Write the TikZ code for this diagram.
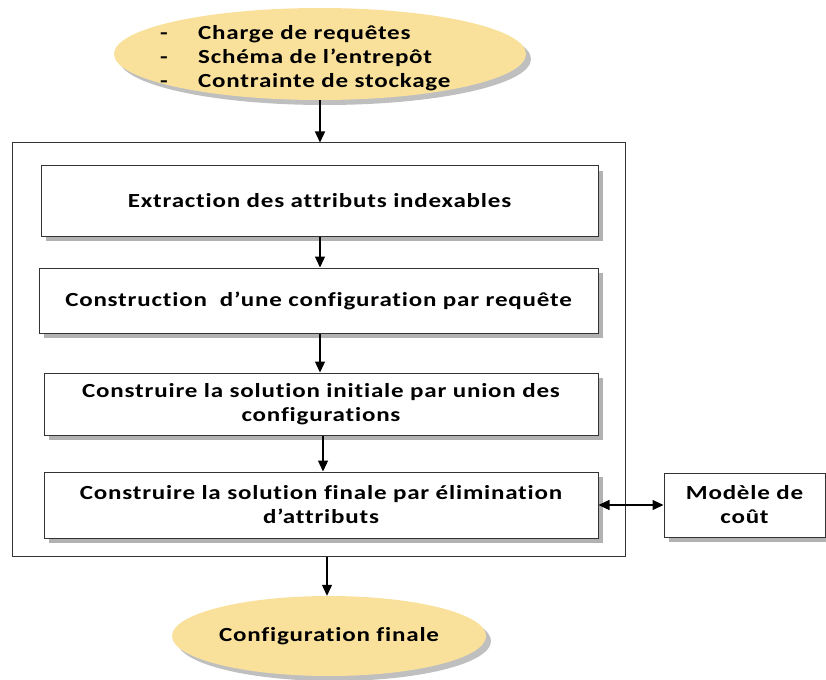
\documentclass[tikz,border=0pt]{standalone}
\usepackage{fontspec}
\setmainfont{Carlito}[LetterSpace=4, FakeStretch=1.25, Ligatures=NoCommon]
\usetikzlibrary{shadows,arrows.meta,shapes.geometric}
\definecolor{ovalfill}{RGB}{250,225,155}
\tikzset{
  stepbox/.style={draw=black!80, line width=1pt, fill=white, drop shadow={shadow xshift=5pt, shadow yshift=-5pt, fill=black!30, opacity=1}, font=\fontsize{20}{24}\selectfont\bfseries, align=center, inner sep=0pt},
  oval/.style={ellipse, fill=ovalfill, inner sep=0pt, drop shadow={shadow xshift=5pt, shadow yshift=-5pt, fill=black!25, opacity=1}},
  txt/.style={font=\fontsize{20}{24}\selectfont\bfseries, inner sep=0pt},
  tip/.tip={Triangle[length=11pt,width=10pt]},
  arr/.style={-tip, line width=1.2pt},
}
\begin{document}
\begin{tikzpicture}[x=1pt,y=-1pt]
\useasboundingbox (0,0) rectangle (826,679);
% top ellipse
\node[oval, minimum width=412pt, minimum height=92pt] (topE) at (320,54) {};
\node[txt, anchor=base west] (d1) at (160,40) {-};
\node[txt, anchor=base west] (d2) at (160,64) {-};
\node[txt, anchor=base west] (d3) at (160,88) {-};
\node[txt, anchor=base west] (t1) at (198,40) {Charge de requêtes};
\node[txt, anchor=base west] (t2) at (198,64) {Schéma de l’entrepôt};
\node[txt, anchor=base west] (t3) at (198,88) {Contrainte de stockage};
% outer box
\node[draw=black!80, line width=1pt, minimum width=613pt, minimum height=413pt, inner sep=0pt] (outer) at (318.5,349.5) {};
% boxes
\node[stepbox, minimum width=557pt, minimum height=70pt] (b1) at (319.5,201) {Extraction des attributs indexables};
\node[stepbox, minimum width=559pt, minimum height=65pt] (b2) at (318.5,300.5) {Construction\ \ d’une configuration par requête};
\node[stepbox, minimum width=554pt, minimum height=62pt] (b3) at (321,404) {Construire la solution initiale par union des\\configurations};
\node[stepbox, minimum width=554pt, minimum height=66pt] (b4) at (321,505) {Construire la solution finale par élimination\\d’attributs};
\node[stepbox, minimum width=161pt, minimum height=64pt] (cm) at (744.5,505) {Modèle de\\coût};
% bottom ellipse
\node[oval, txt, minimum width=314pt, minimum height=80pt] (fin) at (329,636) {Configuration finale};
% arrows
\draw[arr] (topE.south) -- (outer.north -| topE.south);
\draw[arr] (b1.south -| 320,0) -- (b2.north -| 320,0);
\draw[arr] (b2.south -| 320,0) -- (b3.north -| 320,0);
\draw[arr] (b3.south -| 323,0) -- (b4.north -| 323,0);
\draw[arr] (outer.south -| 327,0) -- (fin.north -| 327,0);
\draw[tip-tip, line width=1.2pt] (b4.east) -- (cm.west);
\end{tikzpicture}
\end{document}
